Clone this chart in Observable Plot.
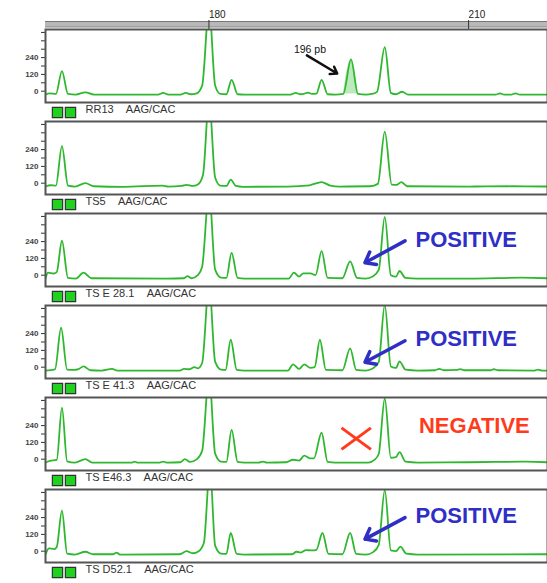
<!DOCTYPE html>
<html><head><meta charset="utf-8">
<script src="https://cdn.jsdelivr.net/npm/d3@7"></script>
<script src="https://cdn.jsdelivr.net/npm/@observablehq/plot@0.6"></script>
<style>
body{margin:0;background:#fff;}
#chart{width:547px;height:583px;}
</style></head><body><div id="chart"></div>
<script>
// ---- data ----
const samples = ["RR13", "TS5", "TS E 28.1", "TS E 41.3", "TS E46.3", "TS D52.1"];
const allele = "AAG/CAC";
const xTicks = [180, 210];
const yTicks = [0, 60, 120, 180, 240, 300, 360, 420];
const yLabels = [0, 120, 240];
const xDomain = [161, 219];
const yDomain = [-81, 441];

// trace points [size (bp), signal]
const rr13 = [[161.0,-24],[161.5,-16],[162.2,-20],[162.9,143],[163.6,-20],[164.5,-24],[165.6,-8],[166.6,-24],[174.0,-24],[174.6,-12],[175.2,-24],[176.6,-24],[177.2,-12],[177.8,-22],[178.4,-18],[179.1,40],[179.9,600],[180.6,40],[181.2,-20],[181.9,-22],[182.5,81],[183.2,-22],[184.0,-24],[189.3,-24],[189.9,-12],[190.4,-22],[190.8,-20],[191.3,-10],[191.8,-20],[192.3,-18],[192.9,81],[193.6,-22],[194.5,-24],[195.4,-20],[196.3,228],[197.1,-20],[198.0,-24],[198.7,-20],[199.3,-5],[200.2,314],[200.9,-12],[201.5,-22],[202.2,-4],[202.9,-24],[213.0,-24],[213.5,-16],[214.0,-24],[214.8,-24],[215.3,-16],[215.8,-24],[219.0,-24]];
const ts5 = [[161.0,-24],[161.6,-15],[162.2,-18],[162.9,265],[163.6,-18],[164.4,-24],[165.6,0],[166.6,-22],[170.0,-26],[174.5,-17],[175.2,-24],[176.7,-20],[177.3,-12],[178.0,-20],[178.6,-10],[179.2,60],[179.9,600],[180.6,40],[181.2,-18],[181.9,-20],[182.4,25],[183.0,-20],[183.8,-26],[189.0,-24],[191.5,-15],[192.9,8],[193.9,-17],[195.0,-24],[198.5,-22],[199.4,-5],[200.2,368],[201.0,-10],[201.6,-12],[202.1,8],[202.8,-22],[210.0,-24],[215.0,-22],[219.0,-24]];
const tsE281 = [[161.0,-24],[161.3,18],[161.9,12],[162.3,22],[162.9,246],[163.6,-20],[164.5,-24],[165.4,18],[166.3,-22],[175.0,-24],[177.0,-22],[177.4,-7],[177.9,-22],[178.6,0],[179.1,60],[179.9,600],[180.6,40],[181.3,-18],[181.9,-20],[182.5,160],[183.2,-20],[184.0,-24],[189.1,-24],[189.7,18],[190.3,-10],[190.8,13],[191.6,13],[192.2,0],[192.9,172],[193.6,-20],[195.3,-22],[196.2,98],[197.0,-20],[198.0,-24],[198.8,-10],[199.5,37],[200.2,417],[200.9,0],[201.5,-10],[201.9,30],[202.6,-20],[204.0,-24],[210.0,-24],[216.0,-18],[219.0,-22]];
const tsE413 = [[161.0,-24],[162.1,-15],[162.8,282],[163.5,-18],[164.3,-20],[164.8,-14],[165.4,5],[166.2,-22],[167.5,-24],[168.7,-12],[169.3,-24],[176.5,-24],[177.0,-12],[177.6,-15],[178.2,0],[178.6,-8],[179.1,30],[179.9,600],[180.6,40],[181.3,-18],[181.8,-20],[182.4,196],[183.1,-20],[184.0,-24],[189.0,-24],[189.6,20],[190.3,-12],[190.9,20],[191.6,-5],[192.1,0],[192.7,196],[193.4,-20],[195.3,-22],[196.2,135],[196.9,-20],[198.0,-24],[198.8,-10],[199.5,37],[200.2,445],[200.9,5],[201.5,-5],[201.9,42],[202.6,-18],[204.0,-24],[206.0,-22],[206.5,-12],[207.0,-22],[208.5,-20],[208.9,-14],[209.4,-22],[212.4,-22],[212.8,-15],[213.3,-22],[217.5,-24],[217.9,-17],[218.4,-24],[219.0,-24]];
const tsE463 = [[161.0,-24],[161.5,-12],[162.3,-5],[162.9,368],[163.5,-15],[164.4,-24],[165.6,0],[166.4,-24],[171.0,-24],[171.3,-17],[171.6,-24],[174.2,-24],[174.6,-17],[175.0,-24],[176.6,-22],[177.1,0],[177.7,-20],[178.5,0],[179.1,60],[179.9,600],[180.6,40],[181.3,-18],[181.9,-20],[182.5,209],[183.2,-20],[184.0,-24],[185.6,-24],[186.1,-17],[186.6,-24],[188.8,-22],[189.6,-4],[190.3,-10],[190.9,25],[191.6,5],[192.0,5],[192.9,189],[193.6,-20],[194.5,-24],[198.3,-24],[199.0,-5],[199.5,37],[200.2,434],[200.9,10],[201.5,15],[201.9,50],[202.6,-18],[204.0,-24],[210.0,-22],[213.0,-20],[216.5,-18],[219.0,-22]];
const tsD521 = [[161.0,-24],[161.4,20],[162.0,15],[162.3,30],[162.9,290],[163.5,-18],[164.4,-24],[165.6,-4],[166.5,-22],[168.8,-22],[169.2,-10],[169.6,-24],[176.5,-22],[177.3,0],[178.0,-15],[178.7,0],[179.3,60],[180.0,600],[180.6,40],[181.3,-18],[181.9,-20],[182.4,130],[183.1,-20],[184.0,-24],[189.5,-22],[190.0,-4],[190.5,-10],[191.1,8],[191.8,5],[192.3,10],[193.0,130],[193.7,-20],[195.3,-22],[196.2,130],[196.9,-20],[198.0,-24],[198.9,-5],[199.5,45],[200.2,437],[200.9,5],[201.5,0],[202.0,32],[202.7,-18],[204.0,-24],[219.0,-22]];
const traces = [rr13, ts5, tsE281, tsE413, tsE463, tsD521];

const calledBin = [195.4, 197.1]; // 196 pb peak of RR13

// annotations
const sizeNote = [{sample: "RR13", text: "196 pb", x: 189.7, y: 300, x1: 191.2, y1: 256, x2: 194.7, y2: 126}];
const positives = [
  {sample: "TS E 28.1", text: "POSITIVE", x: 203.75, y: 253, x1: 202.54, y1: 245, x2: 197.91, y2: 89},
  {sample: "TS E 41.3", text: "POSITIVE", x: 203.75, y: 205, x1: 202.54, y1: 189, x2: 197.91, y2: 35},
  {sample: "TS D52.1", text: "POSITIVE", x: 203.75, y: 253, x1: 202.54, y1: 240, x2: 197.91, y2: 86}
];
const negatives = [{sample: "TS E46.3", text: "NEGATIVE", x: 204.15, y: 237}];
const negCross = [
  {sample: "TS E46.3", x1: 195.2, y1: 224, x2: 198.6, y2: 70},
  {sample: "TS E46.3", x1: 195.2, y1: 70, x2: 198.6, y2: 224}
];

// ---- build table ----
const rows = traces.flatMap((t, i) => t.map(([x, y]) => ({sample: samples[i], x, y})));
const called = rows.filter(d => d.sample === samples[0] && d.x >= calledBin[0] && d.x <= calledBin[1]);
const calledBase = d3.min(called, d => d.y);

const green = "#2fb82f";
const blue = "#2f2fc6";
const red = "#ff3b1c";
const firstPanel = () => samples[0];

const chart = Plot.plot({
  width: 547, height: 583,
  marginTop: 27, marginBottom: 18, marginLeft: 45, marginRight: 0,
  x: {domain: xDomain},
  y: {domain: yDomain},
  fy: {domain: samples, paddingInner: 0.2026, paddingOuter: 0, axis: null},
  style: {fontFamily: "Arial, 'Liberation Sans', sans-serif", background: "white", color: "#333"},
  marks: [
    // top ruler
    Plot.ruleY([yDomain[1]], {fy: firstPanel, dy: -5, stroke: "#b8b8b8", strokeWidth: 5}),
    Plot.ruleY([yDomain[1]], {fy: firstPanel, dy: -8, stroke: "#777", strokeWidth: 1}),
    Plot.ruleY([yDomain[1]], {fy: firstPanel, dy: -2.5, stroke: "#888", strokeWidth: 1}),
    Plot.axisX({anchor: "top", ticks: xTicks, tickSize: 10, tickPadding: 2, textAnchor: "start", dx: -1,
      fontSize: 10, fill: "#222", stroke: "#333", label: null, tickFormat: d => String(d)}),
    Plot.axisY({ticks: yTicks, tickSize: 4, tickPadding: 3, fontSize: 8, fontWeight: "bold", fill: "#444", label: null,
      tickFormat: d => yLabels.includes(d) ? String(d) : ""}),
    Plot.areaY(called, {x: "x", y1: calledBase, y2: "y", fy: "sample", fill: "#8fdc8f", fillOpacity: 0.6, curve: "monotone-x"}),
    Plot.line(rows, {x: "x", y: "y", fy: "sample", stroke: green, strokeWidth: 1.8, curve: "monotone-x", clip: true}),
    Plot.frame({stroke: "#555", strokeWidth: 2}),
    // sample labels below each panel
    Plot.dot(samples, {fy: d => d, frameAnchor: "bottom-left", dx: 12, dy: 10, symbol: "square", r: 5.8, fill: "#1fd21f", stroke: "#333", strokeWidth: 1.2}),
    Plot.dot(samples, {fy: d => d, frameAnchor: "bottom-left", dx: 25, dy: 10, symbol: "square", r: 5.8, fill: "#1fd21f", stroke: "#333", strokeWidth: 1.2}),
    Plot.text(samples, {fy: d => d, text: d => d + "\u00a0\u00a0\u00a0\u00a0" + allele, frameAnchor: "bottom-left", dx: 40, dy: 10,
      textAnchor: "start", fontSize: 11, fill: "#333"}),
    // annotations
    Plot.text(sizeNote, {x: "x", y: "y", fy: "sample", text: "text", textAnchor: "start", fontSize: 10.5, fill: "#111"}),
    Plot.arrow(sizeNote, {x1: "x1", y1: "y1", x2: "x2", y2: "y2", fy: "sample", stroke: "#111", strokeWidth: 2.5, headLength: 4.5, headAngle: 70}),
    Plot.arrow(positives, {x1: "x1", y1: "y1", x2: "x2", y2: "y2", fy: "sample", stroke: blue, strokeWidth: 3.5, headLength: 5, headAngle: 75}),
    Plot.text(positives, {x: "x", y: "y", fy: "sample", text: "text", textAnchor: "start", fontSize: 22, fontWeight: "bold", fill: blue}),
    Plot.link(negCross, {x1: "x1", y1: "y1", x2: "x2", y2: "y2", fy: "sample", stroke: red, strokeWidth: 3}),
    Plot.text(negatives, {x: "x", y: "y", fy: "sample", text: "text", textAnchor: "start", fontSize: 22, fontWeight: "bold", fill: red})
  ]
});
document.getElementById("chart").appendChild(chart);
</script>
</body></html>
